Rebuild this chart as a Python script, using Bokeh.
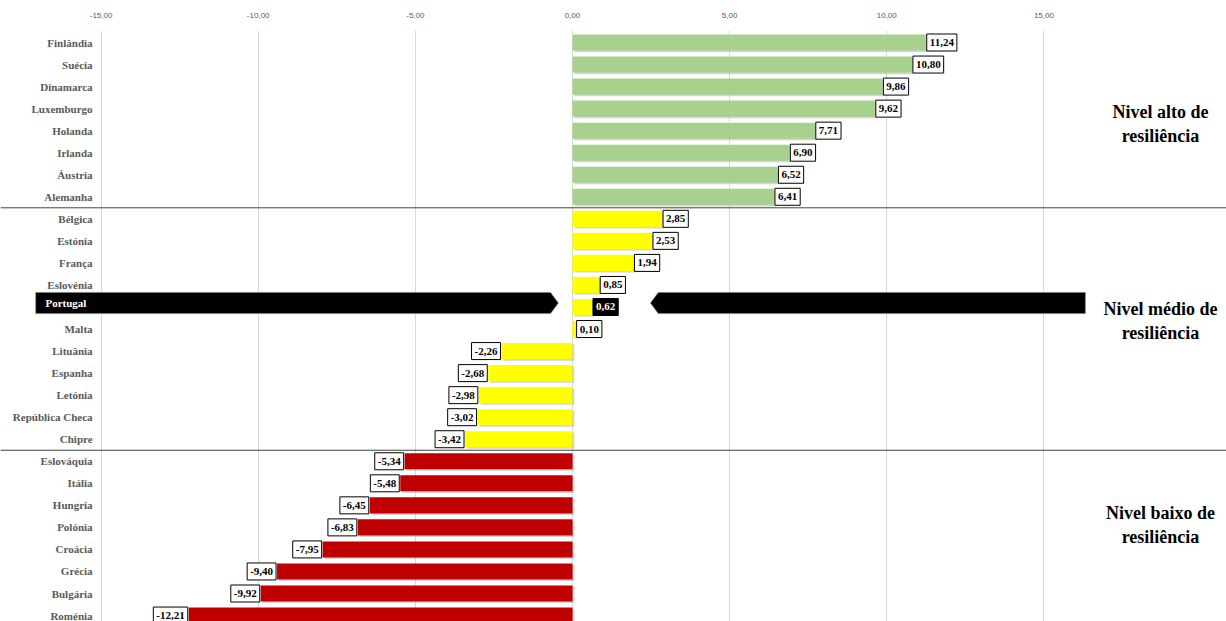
from bokeh.plotting import figure
from bokeh.models import ColumnDataSource, Range1d, FixedTicker, Span
from bokeh.core.properties import value
from bokeh.embed import file_html
from bokeh.resources import INLINE

countries = ["Finlândia", "Suécia", "Dinamarca", "Luxemburgo", "Holanda", "Irlanda", "Áustria", "Alemanha",
             "Bélgica", "Estónia", "França", "Eslovénia", "Portugal", "Malta", "Lituânia", "Espanha", "Letónia",
             "República Checa", "Chipre",
             "Eslováquia", "Itália", "Hungria", "Polónia", "Croácia", "Grécia", "Bulgária", "Roménia"]
scores = [11.24, 10.80, 9.86, 9.62, 7.71, 6.90, 6.52, 6.41,
          2.85, 2.53, 1.94, 0.85, 0.62, 0.10, -2.26, -2.68, -2.98, -3.02, -3.42,
          -5.34, -5.48, -6.45, -6.83, -7.95, -9.40, -9.92, -12.21]
groups = ["alto"] * 8 + ["medio"] * 11 + ["baixo"] * 8
group_titles = {"alto": "Nivel alto de\nresiliência",
                "medio": "Nivel médio de\nresiliência",
                "baixo": "Nivel baixo de\nresiliência"}
tick_values = [-15, -10, -5, 0, 5, 10, 15]
tick_labels = ["-15,00", "-10,00", "-5,00", "0,00", "5,00", "10,00", "15,00"]
highlight = "Portugal"

group_colors = {"alto": "#A9D18E", "medio": "#FFFF00", "baixo": "#C00000"}
SERIF = "Liberation Serif"

rows = list(range(len(countries)))
labels = [f"{v:.2f}".replace(".", ",") for v in scores]
colors = [group_colors[g] for g in groups]

p = figure(width=1226, height=621,
           x_range=Range1d(-18.2, 20.81), y_range=Range1d(26.27, -0.545),
           x_axis_location="above", y_axis_location=None,
           output_backend="svg", toolbar_location=None,
           min_border_left=0, min_border_right=0, min_border_bottom=0, min_border_top=30)
p.outline_line_color = None
p.background_fill_color = "white"

ticker = FixedTicker(ticks=tick_values)
p.xaxis.ticker = ticker
p.xaxis.major_label_overrides = {t: l for t, l in zip(tick_values, tick_labels)}
p.xaxis.axis_line_color = None
p.xaxis.major_tick_line_color = None
p.xaxis.minor_tick_line_color = None
p.xaxis.major_label_text_font = "Liberation Sans"
p.xaxis.major_label_text_font_size = "8px"
p.xaxis.major_label_text_color = "#595959"
p.xaxis.major_label_standoff = 7
p.xgrid.ticker = ticker
p.xgrid.grid_line_color = "#D9D9D9"
p.ygrid.visible = False

# group dividers
for i in range(1, len(groups)):
    if groups[i] != groups[i - 1]:
        p.add_layout(Span(location=i - 0.5, dimension="width", line_color="#404040", line_width=1))

# Portugal arrows
hi = countries.index(highlight)
hv = scores[hi]
yc = hi - 0.18
hh = 0.48
left_start, left_tip, tip_len = -17.08, -0.45, 0.25
right_tip, right_end = hv + 1.86, 16.32
p.patch([left_start, left_tip - tip_len, left_tip, left_tip - tip_len, left_start],
        [yc - hh, yc - hh, yc, yc + hh, yc + hh], color="black", line_color="#7f7f7f", line_width=0.5)
p.patch([right_end, right_tip + tip_len, right_tip, right_tip + tip_len, right_end],
        [yc - hh, yc - hh, yc, yc + hh, yc + hh], color="black", line_color="#7f7f7f", line_width=0.5)
p.text(x=[-16.77], y=[yc], text=[highlight], text_color="white", text_font=value(SERIF),
       text_font_style="bold", text_font_size="11px", text_align="left", text_baseline="middle")

# shadows and bars
p.hbar(y=[r + 0.07 for r in rows], left=0.06, right=[v + 0.06 for v in scores], height=0.73,
       color="#A0A0A0", alpha=0.45, line_color=None)
p.hbar(y=rows, left=0, right=scores, height=0.73, color=colors, line_color=None)

# category labels
cat_src = ColumnDataSource(dict(x=[-15.27] * len(countries), y=rows,
                                t=[c if c != highlight else "" for c in countries]))
p.text(x="x", y="y", text="t", source=cat_src, text_color="#595959", text_font=value(SERIF),
       text_font_style="bold", text_font_size="11px", text_align="right", text_baseline="middle")

# value labels
def label_src(cond):
    idx = [i for i in rows if cond(i)]
    return ColumnDataSource(dict(x=[scores[i] for i in idx], y=[rows[i] for i in idx],
                                 t=[labels[i] for i in idx]))

common = dict(text_font=value(SERIF), text_font_style="bold", text_font_size="11px",
              text_baseline="middle", padding=(3, 5), border_line_width=1)
p.text(x="x", y="y", text="t", source=label_src(lambda i: scores[i] >= 0 and countries[i] != highlight),
       text_align="left", x_offset=1, text_color="black", background_fill_color="white",
       border_line_color="black", **common)
p.text(x="x", y="y", text="t", source=label_src(lambda i: scores[i] < 0 and countries[i] != highlight),
       text_align="right", x_offset=-1, text_color="black", background_fill_color="white",
       border_line_color="black", **common)
p.text(x="x", y="y", text="t", source=label_src(lambda i: countries[i] == highlight),
       text_align="left", x_offset=1, text_color="white", background_fill_color="black",
       border_line_color="black", **common)

# group titles
centers = {"alto": 3.68, "medio": 12.64, "baixo": 21.87}
p.text(x=[18.71] * 3, y=[centers[g] for g in group_titles], text=list(group_titles.values()),
       text_color="black", text_font=value(SERIF), text_font_style="bold", text_font_size="18px",
       text_align="center", text_baseline="middle", text_line_height=1.2)

open("out.html", "w").write(file_html(p, INLINE))
